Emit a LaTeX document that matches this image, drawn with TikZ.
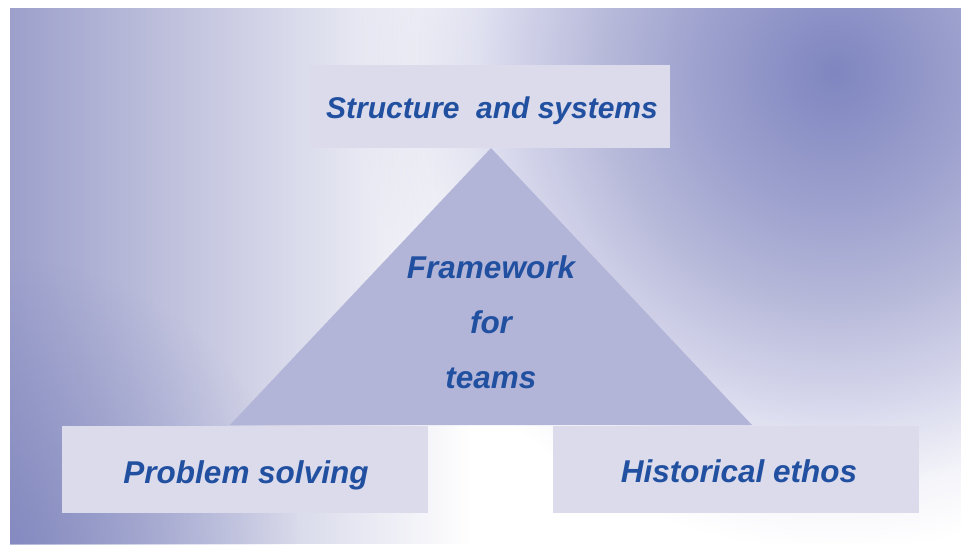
\documentclass[tikz,border=0pt]{standalone}
\usepackage{fontspec}
\setmainfont{Liberation Sans}
\usetikzlibrary{fadings}
\definecolor{bgleft}{RGB}{157,160,203}
\definecolor{bgpurple}{RGB}{110,118,182}
\definecolor{boxfill}{RGB}{219,219,236}
\definecolor{trifill}{RGB}{179,181,216}
\definecolor{txtblue}{RGB}{34,80,160}
\definecolor{rc0}{RGB}{127,134,192}
\definecolor{rc1}{RGB}{158,162,206}
\definecolor{rc2}{RGB}{182,184,217}
\definecolor{rc3}{RGB}{213,214,235}
\definecolor{rc4}{RGB}{245,245,250}
\pgfdeclareradialshading{trshade}{\pgfpoint{0bp}{0bp}}{color(0bp)=(rc0); color(7.3bp)=(rc1); color(11.9bp)=(rc2); color(17.1bp)=(rc3); color(21.9bp)=(rc4); color(25bp)=(white); color(50bp)=(white)}
\tikzfading[name=faderight, left color=transparent!0, right color=transparent!100]
\tikzfading[name=fadecorner, inner color=transparent!45, outer color=transparent!100]
\begin{document}
\begin{tikzpicture}[x=1pt,y=-1pt,
  box/.style={fill=boxfill, draw=none, inner sep=0pt, anchor=north west},
  lbl/.style={text=txtblue, font=\fontsize{31.5}{36}\selectfont\bfseries\itshape, anchor=base, inner sep=0pt}]
\useasboundingbox (0,0) rectangle (961,544);
\fill[white] (0,0) rectangle (961,544);
% background
\begin{scope}
  \clip (10,8) rectangle (961,544);
  \shade[shading=trshade] (835,72) circle[radius=480pt];
  \fill[bgleft, path fading=faderight] (10,8) rectangle (470,544);
  \fill[bgpurple, path fading=fadecorner] (0,560) circle[radius=300pt];
\end{scope}
% triangle
\coordinate (apex) at (491,148);
\coordinate (bl) at (230,425);
\coordinate (br) at (752,425);
\fill[trifill] (apex) -- (bl) -- (br) -- cycle;
% boxes
\node[box, minimum width=360pt, minimum height=83pt] (topbox) at (310,65) {};
\node[box, minimum width=366pt, minimum height=87pt] (leftbox) at (62,426) {};
\node[box, minimum width=366pt, minimum height=87pt] (rightbox) at (553,426) {};
% labels
\node[lbl, font=\fontsize{30}{36}\selectfont\bfseries\itshape] (ttop) at (492,118) {Structure\ \ and systems};
\node[lbl] (tleft) at (246,483) {Problem solving};
\node[lbl] (tright) at (739,482) {Historical ethos};
\node[lbl] (tf1) at (491,278) {Framework};
\node[lbl] (tf2) at (491,333) {for};
\node[lbl] (tf3) at (491,388) {teams};
\end{tikzpicture}
\end{document}
